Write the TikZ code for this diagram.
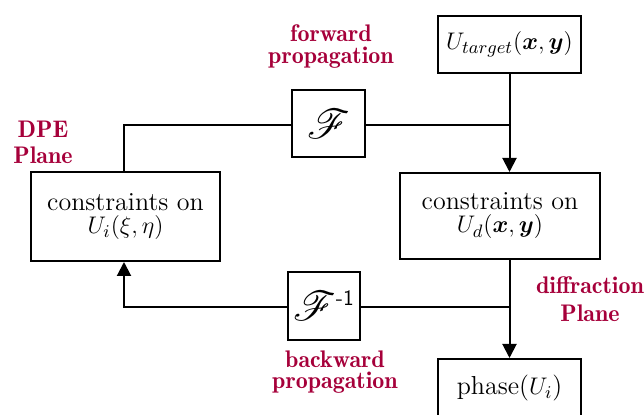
\documentclass[tikz,border=0pt]{standalone}
\usepackage{amsmath,bm}
\usepackage{mathrsfs}
\usetikzlibrary{arrows.meta}
\definecolor{crim}{RGB}{166,0,58}
\begin{document}
\begin{tikzpicture}[x=0.5pt,y=-0.5pt,
  box/.style={draw,line width=1pt,inner sep=0pt,font=\fontsize{13}{13}\selectfont},
  lbl/.style={text=crim,font=\fontsize{12}{12}\fontseries{b}\selectfont,align=center,inner sep=0pt},
  ln/.style={line width=1pt},
  arr/.style={line width=1pt,-{Triangle[length=7pt,width=7pt]}}]
\useasboundingbox (0,0) rectangle (644,415);
\clip (0,0) rectangle (644,415);
\node[box,minimum width=71.5pt,minimum height=28.5pt] (tgt) at (509.5,44.5) {$U_{target}(\bm{x},\bm{y})$};
\node[box,minimum width=36.5pt,minimum height=33.5pt,font=\fontsize{22}{22}\selectfont] (F) at (328.5,123.5) {$\mathscr{F}$};
\node[box,minimum width=94.5pt,minimum height=44.5pt,align=center] (L) at (125.5,216.5) {constraints on\\[-1.5pt]$U_i(\xi,\eta)$};
\node[box,minimum width=100pt,minimum height=43pt,align=center] (R) at (500,216) {constraints on\\[-1.5pt]$U_d(\bm{x},\bm{y})$};
\node[box,minimum width=36pt,minimum height=34pt,font=\fontsize{22}{22}\selectfont] (Fi) at (324,306) {$\mathscr{F}^{\text{\fontsize{11}{11}\selectfont\sffamily -1}}$};
\node[box,minimum width=71.5pt,minimum height=40pt,anchor=north] (ph) at (509.5,358) {};
\node[font=\fontsize{13}{13}\selectfont] (pht) at (509.5,388) {phase($U_i$)};
\coordinate (j) at (509.5,125);
\coordinate (lt) at (124,125);
\coordinate (lb) at (124,307);
\coordinate (rb) at (509.5,307);
\draw[ln] (L.north -| lt) -- (lt) -- (F.west |- lt);
\draw[ln] (F.east |- j) -- (j);
\draw[arr] (tgt.south -| j) -- (R.north -| j);
\draw[arr] (R.south -| j) -- (ph.north -| j);
\draw[ln] (rb) -- (Fi.east |- rb);
\draw[arr] (Fi.west |- lb) -- (lb) -- (L.south -| lb);
\node[lbl] (fw) at (331,47) {forward\\[-1pt]propagation};
\node[lbl] (dpe) at (43,142) {DPE\\[1pt]Plane};
\node[lbl] (dif) at (590,299) {diffraction\\[2pt]Plane};
\node[lbl] (bw) at (335,372) {backward\\[-1.5pt]propagation};
\end{tikzpicture}
\end{document}
